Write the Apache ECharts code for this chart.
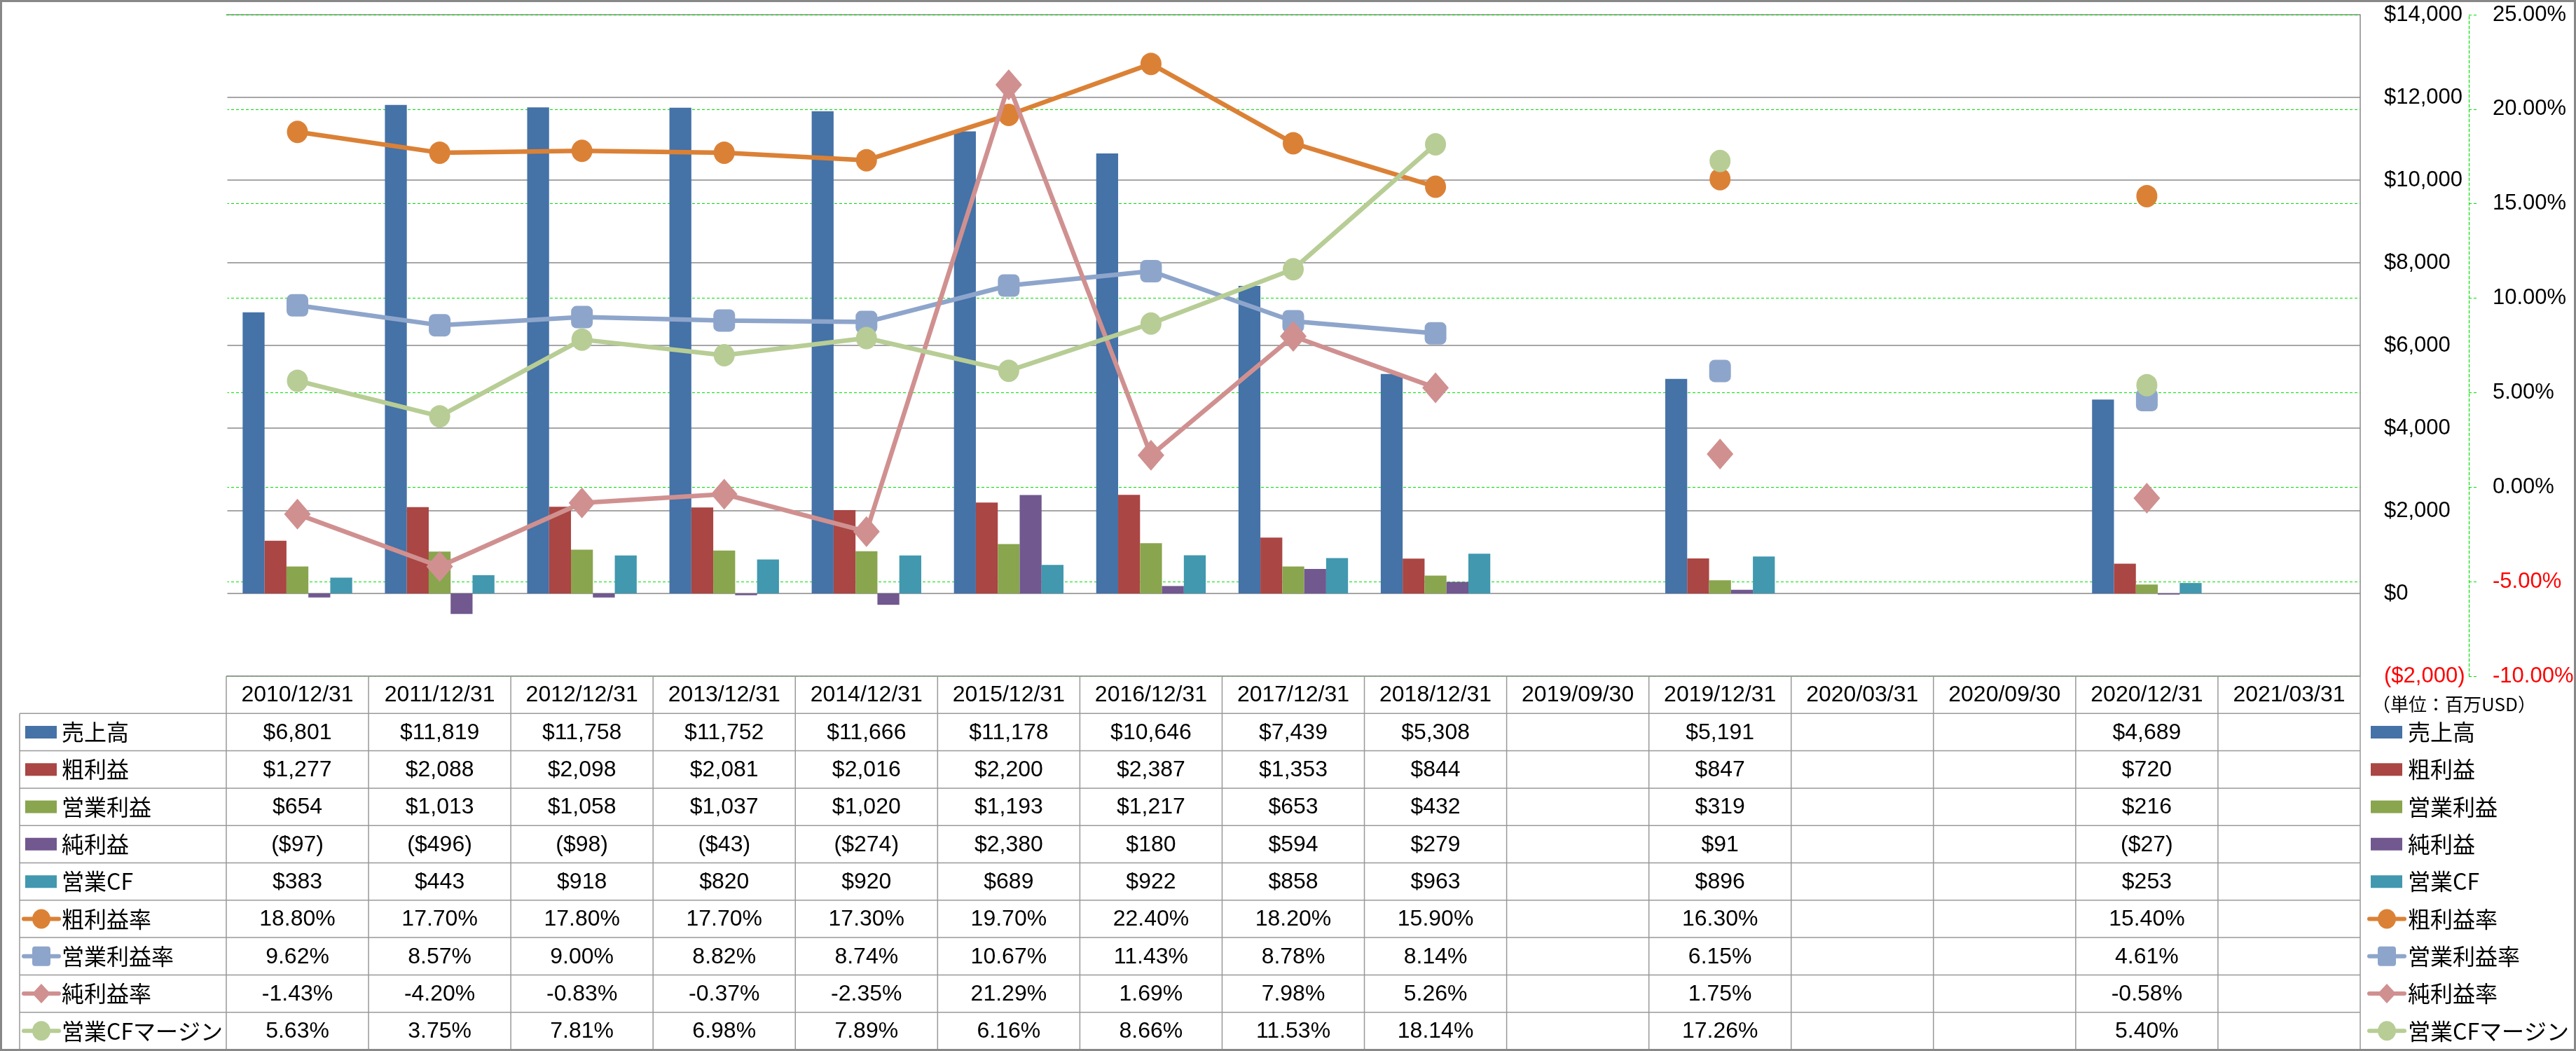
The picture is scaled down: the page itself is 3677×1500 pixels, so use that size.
<!DOCTYPE html>
<html><head><meta charset="utf-8">
<script src="https://cdn.jsdelivr.net/npm/echarts@6/dist/echarts.min.js"></script>
<style>html,body{margin:0;padding:0;background:#fff}#c{width:3677px;height:1500px}</style>
</head><body><div id="c"></div>
<script>
// ---------- data ----------
const categories = ['2010/12/31','2011/12/31','2012/12/31','2013/12/31','2014/12/31','2015/12/31','2016/12/31','2017/12/31','2018/12/31','2019/09/30','2019/12/31','2020/03/31','2020/09/30','2020/12/31','2021/03/31'];
const sales           = [6801, 11819, 11758, 11752, 11666, 11178, 10646, 7439, 5308, null, 5191, null, null, 4689, null];
const grossProfit     = [1277, 2088, 2098, 2081, 2016, 2200, 2387, 1353, 844, null, 847, null, null, 720, null];
const operatingProfit = [654, 1013, 1058, 1037, 1020, 1193, 1217, 653, 432, null, 319, null, null, 216, null];
const netProfit       = [-97, -496, -98, -43, -274, 2380, 180, 594, 279, null, 91, null, null, -27, null];
const operatingCF     = [383, 443, 918, 820, 920, 689, 922, 858, 963, null, 896, null, null, 253, null];
const grossMargin     = [18.80, 17.70, 17.80, 17.70, 17.30, 19.70, 22.40, 18.20, 15.90, null, 16.30, null, null, 15.40, null];
const operatingMargin = [9.62, 8.57, 9.00, 8.82, 8.74, 10.67, 11.43, 8.78, 8.14, null, 6.15, null, null, 4.61, null];
const netMargin       = [-1.43, -4.20, -0.83, -0.37, -2.35, 21.29, 1.69, 7.98, 5.26, null, 1.75, null, null, -0.58, null];
const cfMargin        = [5.63, 3.75, 7.81, 6.98, 7.89, 6.16, 8.66, 11.53, 18.14, null, 17.26, null, null, 5.40, null];
const barNames  = ['売上高','粗利益','営業利益','純利益','営業CF'];
const lineNames = ['粗利益率','営業利益率','純利益率','営業CFマージン'];
const moneyAxis = {min: -2000, max: 14000, interval: 2000};
const pctAxis   = {min: -10, max: 25, interval: 5};
const unitLabel = '（単位：百万USD）';

// ---------- styles ----------
const barColors  = ['#4572A7','#AA4643','#89A54E','#71588F','#4198AF'];
const lineColors = ['#DB8136','#8EA5CB','#D09090','#B7CD95'];
const lineSymbols = ['circle','roundRect','diamond','circle'];
const lineSymbolSizes = [[30,32],[31,32],[38,44],[30,32]];
const barData = [sales, grossProfit, operatingProfit, netProfit, operatingCF];
const lineData = [grossMargin, operatingMargin, netMargin, cfMargin];

const LATIN = '"Liberation Sans", Arial, sans-serif';
const CJK = '"Noto Sans CJK JP", "Noto Sans", sans-serif';

function money(v){
  if (v === null || v === undefined) return '';
  const s = '$' + Math.abs(v).toLocaleString('en-US');
  return v < 0 ? '(' + s + ')' : s;
}
function pct(v){
  if (v === null || v === undefined) return '';
  return v.toFixed(2) + '%';
}

const chart = echarts.init(document.getElementById('c'));

const series = [];
barData.forEach((d, i) => {
  series.push({
    name: barNames[i], type: 'bar', yAxisIndex: 0, data: d,
    barGap: '0%', barCategoryGap: '23%',
    itemStyle: {color: barColors[i]}, z: 2
  });
});
lineData.forEach((d, i) => {
  series.push({
    name: lineNames[i], type: 'line', yAxisIndex: 1, data: d,
    symbol: lineSymbols[i], symbolSize: lineSymbolSizes[i],
    showSymbol: true, showAllSymbol: true, connectNulls: false,
    lineStyle: {color: lineColors[i], width: 6.5},
    itemStyle: {color: lineColors[i], borderWidth: 0},
    z: 3 + i
  });
});

chart.setOption({
  animation: false,
  grid: {left: 323, right: 308, top: 21, bottom: 535},
  xAxis: {
    type: 'category', data: categories,
    axisLine: {show: false}, axisTick: {show: false}, axisLabel: {show: false},
    splitLine: {show: false}
  },
  yAxis: [
    {
      type: 'value', position: 'right', min: moneyAxis.min, max: moneyAxis.max, interval: moneyAxis.interval,
      axisLine: {show: true, lineStyle: {color: '#888', width: 1.5}},
      axisTick: {show: false},
      axisLabel: {
        margin: 34, align: 'left',
        formatter: v => money(v),
        color: v => (v < 0 ? '#FF0000' : '#000'),
        fontSize: 31, fontFamily: LATIN
      },
      splitLine: {show: true, lineStyle: {color: '#888', width: 1.5}}
    },
    {
      type: 'value', position: 'right', offset: 155, min: pctAxis.min, max: pctAxis.max, interval: pctAxis.interval,
      axisLine: {show: true, lineStyle: {color: '#00E000', width: 1.2, type: [4, 3]}},
      axisTick: {show: true, length: 11, lineStyle: {color: '#00E000', width: 1.2, type: [4, 3]}},
      axisLabel: {
        margin: 34, align: 'left',
        formatter: v => pct(v),
        color: v => (v < 0 ? '#FF0000' : '#000'),
        fontSize: 31, fontFamily: LATIN
      },
      splitLine: {show: true, lineStyle: {color: '#00E000', width: 1.2, type: [4, 3]}}
    }
  ],
  series: series
});

// ---------- data table + legends (built from the same arrays) ----------
function buildGraphics(){
  const centers = categories.map((c, i) => chart.convertToPixel({xAxisIndex: 0}, i));
  const colW = centers[1] - centers[0];
  const left = centers[0] - colW / 2;
  const right = centers[centers.length - 1] + colW / 2;
  const top = chart.convertToPixel({yAxisIndex: 0}, moneyAxis.min);
  const plotTop = chart.convertToPixel({yAxisIndex: 0}, moneyAxis.max);
  const bottom = 1498;
  const rows = barNames.length + lineNames.length;
  const rowH = (bottom - top) / (rows + 1);
  const labelLeft = 28;
  const gLineColor = '#999';
  const els = [];
  const hl = (x1, y1, x2, y2) => els.push({type: 'line', silent: true, shape: {x1, y1, x2, y2}, style: {stroke: gLineColor, lineWidth: 1.5}, z: 10});
  const txt = (x, y, text, font, align, fill) => els.push({type: 'text', silent: true, x, y, style: {text, font, align: align || 'center', verticalAlign: 'middle', fill: fill || '#000'}, z: 11});

  // keep the plot's left edge open (no vertical border there in the original)
  els.push({type: 'line', silent: true, shape: {x1: left, y1: plotTop + 1, x2: left, y2: top - 1}, style: {stroke: '#fff', lineWidth: 3}, z: 1});

  // header row
  hl(left, top, right, top);
  for (let i = 0; i <= categories.length; i++) hl(left + i * colW, top, left + i * colW, bottom);
  categories.forEach((c, i) => txt(centers[i], top + rowH / 2 + 1, c, '32px ' + LATIN));
  // data row lines
  for (let r = 1; r <= rows + 1; r++) hl(labelLeft, top + r * rowH, right, top + r * rowH);
  hl(labelLeft, top + rowH, labelLeft, bottom);

  const allNames = barNames.concat(lineNames);
  const allData = barData.concat(lineData);
  allNames.forEach((name, r) => {
    const cy = top + (r + 1.5) * rowH;
    const fmt = r < barNames.length ? money : pct;
    allData[r].forEach((v, i) => txt(centers[i], cy + 1, fmt(v), '32px ' + LATIN));
  });

  // legend icons: left (inside the table) and right
  function icon(x0, cy, r){
    if (r < barNames.length) {
      els.push({type: 'rect', silent: true, shape: {x: x0 + 2, y: cy - 9, width: 45, height: 18}, style: {fill: barColors[r]}, z: 11});
    } else {
      const k = r - barNames.length, col = lineColors[k], cx = x0 + 25;
      els.push({type: 'line', silent: true, shape: {x1: x0, y1: cy, x2: x0 + 50, y2: cy}, style: {stroke: col, lineWidth: 6, lineCap: 'round'}, z: 11});
      const sym = lineSymbols[k];
      if (sym === 'circle') els.push({type: 'ellipse', silent: true, shape: {cx, cy, rx: 13, ry: 14}, style: {fill: col}, z: 12});
      else if (sym === 'roundRect') els.push({type: 'rect', silent: true, shape: {x: cx - 13, y: cy - 14, width: 26, height: 28, r: 4}, style: {fill: col}, z: 12});
      else els.push({type: 'polygon', silent: true, shape: {points: [[cx, cy - 14], [cx + 13, cy], [cx, cy + 14], [cx - 13, cy]]}, style: {fill: col}, z: 12});
    }
  }
  allNames.forEach((name, r) => {
    const cy = top + (r + 1.5) * rowH;
    icon(34, cy, r);
    txt(88, cy, name, '32px ' + CJK, 'left');
    icon(3382, cy, r);
    txt(3437, cy, name, '32px ' + CJK, 'left');
  });
  txt(3503, top + rowH * 0.75, unitLabel, '26px ' + CJK, 'center');

  // outer frame
  els.push({type: 'rect', silent: true, shape: {x: 1.5, y: 1.5, width: 3674, height: 1497}, style: {fill: 'none', stroke: '#888', lineWidth: 3}, z: 20});
  chart.setOption({graphic: {elements: els}});
}
buildGraphics();
</script>
</body></html>
